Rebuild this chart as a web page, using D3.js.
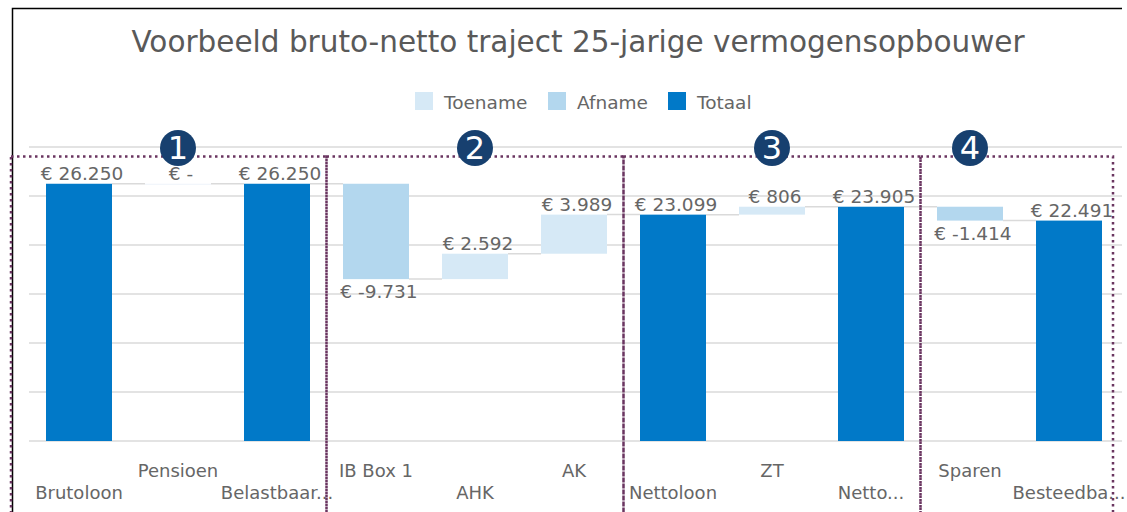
<!DOCTYPE html>
<html>
<head>
<meta charset="utf-8">
<script src="https://cdn.jsdelivr.net/npm/d3@7"></script>
<style>
  body { margin: 0; background: #fff; }
  svg { display: block; font-family: "DejaVu Sans", Verdana, sans-serif; }
</style>
</head>
<body>
<div id="chart"></div>
<script>
// categories as shown on the axis (long names are cut off in the original)
var categories = ["Brutoloon", "Pensioen", "Belastbaar...", "IB Box 1", "AHK", "AK",
                  "Nettoloon", "ZT", "Netto...", "Sparen", "Besteedba..."];
var values = [26250, 0, 26250, -9731, 2592, 3989, 23099, 806, 23905, -1414, 22491];
var kinds = ["Totaal", "Toename", "Totaal", "Afname", "Toename", "Toename",
             "Totaal", "Toename", "Totaal", "Afname", "Totaal"];
var legendLabels = ["Toename", "Afname", "Totaal"];
var yTicks = [0, 5000, 10000, 15000, 20000, 25000, 30000];
// groups of categories (first, last) that get a dotted box and a number
var groups = [[0, 2], [3, 5], [6, 8], [9, 10]];
var groupNumbers = ["1", "2", "3", "4"];
var markerCats = [1, 4, 7, 9];

var title = "Voorbeeld bruto-netto traject 25-jarige vermogensopbouwer";

function drawChart() {
    var width = 1127;
    var height = 512;

    var colors = { Toename: "#d6e9f6", Afname: "#b3d7ee", Totaal: "#0179c8" };

    var nl = d3.formatLocale({ decimal: ",", thousands: ".", grouping: [3], currency: ["€ ", ""], minus: "-" });
    var fmt = nl.format(",");
    function label(v) { return v === 0 ? "€ -" : "€ " + fmt(v); }

    // waterfall steps
    var running = 0;
    var data = categories.map(function(c, i) {
        var d = { cat: c, value: values[i], kind: kinds[i], i: i };
        if (d.kind === "Totaal") {
            d.start = 0; d.end = d.value; running = d.value;
        } else {
            d.start = running; d.end = running + d.value; running = d.end;
        }
        return d;
    });

    var svg = d3.select('#chart')
      .append('svg')
        .attr('width', width)
        .attr('height', height);

    var x = d3.scaleBand()
        .domain(categories)
        .range([29.5, 1118.5])
        .paddingInner(1 / 3)
        .paddingOuter(1 / 6);

    var y = d3.scaleLinear()
        .domain([0, 30000])
        .range([441, 147]);

    // frame
    svg.append('path')
        .attr('d', 'M12.5,' + (height + 5) + 'V8.5H1122')
        .attr('fill', 'none')
        .attr('stroke', '#000')
        .attr('stroke-width', 1.5);

    // title
    svg.append('text')
        .attr('x', 578)
        .attr('y', 52)
        .attr('text-anchor', 'middle')
        .attr('font-size', 29.5)
        .attr('fill', '#595959')
        .text(title);

    // legend
    var legendX = [415, 548, 668];
    var leg = svg.append('g')
      .selectAll('g')
      .data(legendLabels)
      .enter()
      .append('g')
        .attr('transform', (d, i) => 'translate(' + legendX[i] + ',92)');
    leg.append('rect')
        .attr('width', 18)
        .attr('height', 18)
        .attr('fill', d => colors[d]);
    leg.append('text')
        .attr('x', 29)
        .attr('y', 16.5)
        .attr('font-size', 18.5)
        .attr('fill', '#666')
        .text(d => d);

    // gridlines
    svg.append('g')
      .selectAll('line')
      .data(yTicks)
      .enter()
      .append('line')
        .attr('x1', 29)
        .attr('x2', 1122)
        .attr('y1', d => y(d))
        .attr('y2', d => y(d))
        .attr('stroke', '#dadada')
        .attr('stroke-width', 1.5);

    // connectors
    svg.append('g')
      .selectAll('line')
      .data(data.slice(0, -1))
      .enter()
      .append('line')
        .attr('x1', d => x(d.cat) + x.bandwidth())
        .attr('x2', d => x(categories[d.i + 1]))
        .attr('y1', d => y(d.end))
        .attr('y2', d => y(d.end))
        .attr('stroke', '#dadada')
        .attr('stroke-width', 1.5);

    // bars
    svg.append('g')
      .selectAll('rect')
      .data(data)
      .enter()
      .append('rect')
        .attr('x', d => x(d.cat))
        .attr('width', x.bandwidth())
        .attr('y', d => y(Math.max(d.start, d.end)))
        .attr('height', d => Math.max(1, Math.abs(y(d.start) - y(d.end))))
        .attr('fill', d => d.value === 0 ? '#eef4fa' : colors[d.kind]);

    // value labels
    svg.append('g')
      .selectAll('text')
      .data(data)
      .enter()
      .append('text')
        .attr('x', d => x(d.cat) + x.bandwidth() / 2 + 3)
        .attr('y', d => d.value < 0 ? y(Math.min(d.start, d.end)) + 19 : y(Math.max(d.start, d.end)) - 4)
        .attr('text-anchor', 'middle')
        .attr('font-size', 18.5)
        .attr('fill', '#666')
        .text(d => label(d.value));

    // category labels, staggered on two rows
    svg.append('g')
      .selectAll('text')
      .data(categories)
      .enter()
      .append('text')
        .attr('x', d => x(d) + x.bandwidth() / 2)
        .attr('y', (d, i) => i % 2 === 0 ? 499 : 477)
        .attr('text-anchor', 'middle')
        .attr('font-size', 18)
        .attr('fill', '#666')
        .text(d => d);

    // dotted group boxes
    var boxTop = 156.5;
    function boxLeft(d, i) {
        return i === 0 ? 11 : x(categories[d[0]]) - x.step() * x.paddingInner() / 2;
    }
    function boxRight(d, i) {
        return i === groups.length - 1 ? 1113 : x(categories[d[1]]) + x.bandwidth() + x.step() * x.paddingInner() / 2;
    }
    svg.append('g')
      .selectAll('rect')
      .data(groups)
      .enter()
      .append('rect')
        .attr('x', boxLeft)
        .attr('width', (d, i) => boxRight(d, i) - boxLeft(d, i))
        .attr('y', boxTop)
        .attr('height', 400)
        .attr('fill', 'none')
        .attr('stroke', '#6a3560')
        .attr('stroke-width', 2.5)
        .attr('stroke-dasharray', '2.5 3.5');

    // numbered markers
    var marker = svg.append('g')
      .selectAll('g')
      .data(groupNumbers)
      .enter()
      .append('g')
        .attr('transform', (d, i) => 'translate(' + (x(categories[markerCats[i]]) + x.bandwidth() / 2) + ',148)');
    marker.append('circle')
        .attr('r', 18)
        .attr('fill', '#17406f');
    marker.append('text')
        .attr('y', 11)
        .attr('text-anchor', 'middle')
        .attr('font-size', 32)
        .attr('fill', '#fff')
        .text(d => d);
}

drawChart();
</script>
</body>
</html>
